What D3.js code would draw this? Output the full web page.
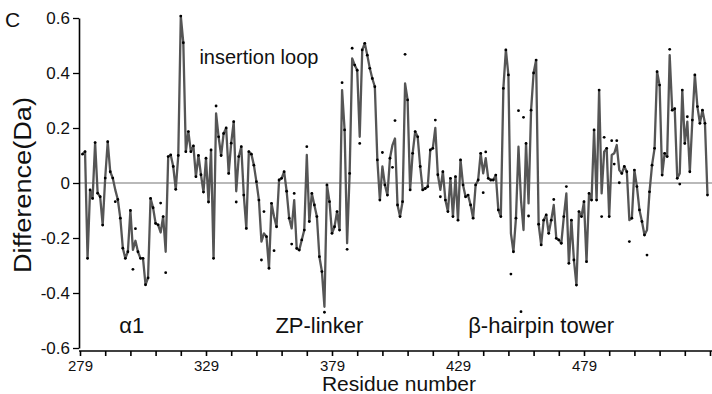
<!DOCTYPE html>
<html>
<head>
<meta charset="utf-8">
<script src="https://cdn.jsdelivr.net/npm/d3@7"></script>
<style>
  body { margin: 0; background: #fff; }
  svg text { font-family: "Liberation Sans", Arial, sans-serif; fill: #111; }
</style>
</head>
<body>
<figure id="chart" style="margin:0"></figure>
<script>
// residue numbering of the first value in diffValues
const firstResidue = 280;

// mass difference per residue (Da), residues 280..528
const diffValues = [
  0.105, 0.114, -0.274, -0.025, -0.056, 0.147, -0.037, -0.05, -0.153, 0.018,
  0.15, 0.041, 0.018, -0.025, -0.06, -0.128, -0.237, -0.274, -0.25, -0.10,
  -0.243, -0.21, -0.25, -0.274, -0.274, -0.37, -0.345, -0.056, -0.09, -0.147,
  -0.152, -0.18, -0.122, -0.25, 0.096, 0.102, 0.06, -0.023, 0.10, 0.607,
  0.51, 0.114, 0.187, 0.114, 0.135, 0.023, 0.10, 0.03, -0.033, 0.09,
  -0.069, 0.12, -0.274, 0.253, 0.168, 0.10, 0.18, 0.20, 0.035, 0.145,
  0.223, -0.03, 0.096, 0.132, -0.044, -0.165, 0.114, 0.105, 0.065, 0.005,
  -0.062, -0.213, -0.183, -0.195, -0.31, -0.074, -0.122, -0.159, 0.011, 0.017,
  0.041, -0.03, -0.128, -0.165, -0.062, -0.238, -0.244, -0.207, -0.171, 0.102,
  -0.14, -0.038, -0.08, -0.122, -0.268, -0.322, -0.45, -0.007, -0.068, -0.183,
  -0.159, -0.104, -0.171, 0.338, 0.193, -0.219, 0.035, 0.453, 0.429, 0.41,
  0.168, 0.484, 0.508, 0.465, 0.417, 0.38, 0.35, 0.084, -0.062, 0.06,
  -0.007, -0.044, 0.09, 0.138, 0.162, -0.08, -0.122, -0.068, 0.362, 0.302,
  -0.025, 0.108, 0.187, 0.168, 0.06, -0.025, -0.02, -0.013, 0.12, 0.126,
  0.2, 0.03, -0.025, 0.041, -0.062, -0.104, 0.017, -0.122, 0.023, -0.135,
  0.084, -0.007, -0.05, -0.044, -0.08, -0.128, -0.007, 0.011, 0.108, 0.035,
  0.09, 0.017, 0.011, 0.011, 0.029, -0.098, -0.122, 0.344, 0.484, 0.393,
  -0.183, -0.25, -0.128, 0.132, -0.062, -0.171, 0.144, -0.074, 0.265, 0.40,
  0.447, -0.15, -0.225, -0.135, -0.116, -0.183, -0.135, -0.08, -0.201, -0.207,
  -0.219, -0.122, -0.038, -0.292, -0.135, -0.28, -0.371, -0.104, -0.122, -0.068,
  -0.286, -0.038, -0.062, 0.193, -0.062, 0.338, -0.038, 0.114, 0.126, -0.122,
  0.102, 0.108, 0.138, 0.047, 0.035, 0.06, 0.041, -0.135, -0.128, 0.047,
  -0.013, -0.098, -0.14, -0.189, -0.171, -0.032, 0.065, 0.126, 0.405, 0.356,
  0.029, 0.108, 0.096, 0.465, 0.265, 0.27, 0.017, 0.035, 0.338, 0.144,
  0.223, 0.041, 0.229, 0.393, 0.278, 0.217, 0.265, 0.217, -0.044
];

// measured points that sit off the line: [residue, value]
const offLinePoints = [
  [293, -0.068], [300, -0.314], [301, -0.166], [311, -0.073], [313, -0.326],
  [333, 0.28], [341, -0.069], [351, -0.28], [352, -0.104], [356, -0.246],
  [363, -0.222], [364, -0.038], [369, 0.132], [376, -0.47], [383, 0.365],
  [385, -0.241], [387, 0.49], [390, 0.144], [399, 0.111], [403, 0.057],
  [404, 0.227], [408, 0.468], [420, 0.229], [422, -0.05], [439, -0.035],
  [440, 0.113], [450, -0.331], [453, 0.263], [454, -0.468], [455, 0.239],
  [457, -0.12], [467, -0.06], [472, -0.013], [486, -0.122], [487, 0.166],
  [490, 0.154], [491, 0.069], [492, 0.154], [493, 0.001], [497, -0.213],
  [504, -0.262], [513, 0.486], [517, -0.004], [520, 0.241]
];

const xTicks = d3.range(279, 530, 10);
const xTickLabels = [279, 329, 379, 429, 479];
const yTicks = [-0.6, -0.4, -0.2, 0, 0.2, 0.4, 0.6];

// region labels: [text, residue, value]
const regionLabels = [
  ["insertion loop", 350, 0.433],
  ["\u03b11", 299.5, -0.545],
  ["ZP-linker", 374, -0.545],
  ["\u03b2-hairpin tower", 462, -0.545]
];

const width = 712, height = 394;

const svg = d3.select("figure#chart")
  .append("svg")
  .attr("width", width)
  .attr("height", height);

const x = d3.scaleLinear().domain([279, 529]).range([80, 710]);
const y = d3.scaleLinear().domain([-0.6, 0.6]).range([348, 18]);

const line = diffValues.map((v, i) => ({ res: firstResidue + i, val: v }));
const offMap = new Map(offLinePoints);
const dots = line.map(d => ({ res: d.res, val: offMap.has(d.res) ? offMap.get(d.res) : d.val }));

// zero reference line
svg.append("line")
  .attr("x1", x(279)).attr("x2", width)
  .attr("y1", y(0)).attr("y2", y(0))
  .attr("stroke", "#b9b9b9")
  .attr("stroke-width", 2);

// difference trace
svg.append("path")
  .datum(line)
  .attr("fill", "none")
  .attr("stroke", "#555")
  .attr("stroke-width", 2.3)
  .attr("stroke-linejoin", "round")
  .attr("d", d3.line().x(d => x(d.res)).y(d => y(d.val)));

svg.selectAll("circle.pt")
  .data(dots)
  .enter()
  .append("circle")
  .attr("class", "pt")
  .attr("cx", d => x(d.res))
  .attr("cy", d => y(d.val))
  .attr("r", 1.4)
  .attr("fill", "#000");

// Y axis
const yAxis = svg.append("g")
  .attr("transform", "translate(79,0)")
  .call(d3.axisLeft(y)
    .tickValues(yTicks)
    .tickSize(6)
    .tickSizeOuter(0)
    .tickFormat(d => d === 0 ? "0" : d3.format(".1f")(d).replace("\u2212", "-")));
yAxis.select(".domain").attr("stroke", "#000").attr("stroke-width", 1.6);
yAxis.selectAll(".tick line").attr("stroke", "#000").attr("stroke-width", 1.3);
yAxis.selectAll(".tick text")
  .attr("x", -9)
  .style("font-size", "17px")
  .style("font-family", "Liberation Sans, Arial, sans-serif");

// X axis
const xAxis = svg.append("g")
  .attr("transform", "translate(0,351)")
  .call(d3.axisBottom(x)
    .tickValues(xTicks)
    .tickSize(5)
    .tickSizeOuter(0)
    .tickFormat(d => xTickLabels.includes(d) ? String(d) : ""));
xAxis.select(".domain").attr("stroke", "#000").attr("stroke-width", 1.6)
  .attr("d", "M79,0H712");
xAxis.selectAll(".tick line").attr("stroke", "#000").attr("stroke-width", 1.6);
xAxis.selectAll(".tick text")
  .attr("y", 9)
  .style("font-size", "15px")
  .style("font-family", "Liberation Sans, Arial, sans-serif");

// axis titles
svg.append("text")
  .attr("x", 399).attr("y", 391)
  .attr("text-anchor", "middle")
  .style("font-size", "21px")
  .text("Residue number");

svg.append("text")
  .attr("transform", "translate(31,185) rotate(-90)")
  .attr("text-anchor", "middle")
  .attr("textLength", 176)
  .attr("lengthAdjust", "spacingAndGlyphs")
  .style("font-size", "23px")
  .text("Difference(Da)");

svg.append("text")
  .attr("x", 5).attr("y", 27)
  .style("font-size", "21px")
  .text("C");

// region annotations
svg.selectAll("text.region")
  .data(regionLabels)
  .enter()
  .append("text")
  .attr("class", "region")
  .attr("x", d => x(d[1]))
  .attr("y", d => y(d[2]))
  .attr("text-anchor", "middle")
  .style("font-size", (d, i) => i === 0 ? "20px" : "22px")
  .text(d => d[0]);
</script>
</body>
</html>
